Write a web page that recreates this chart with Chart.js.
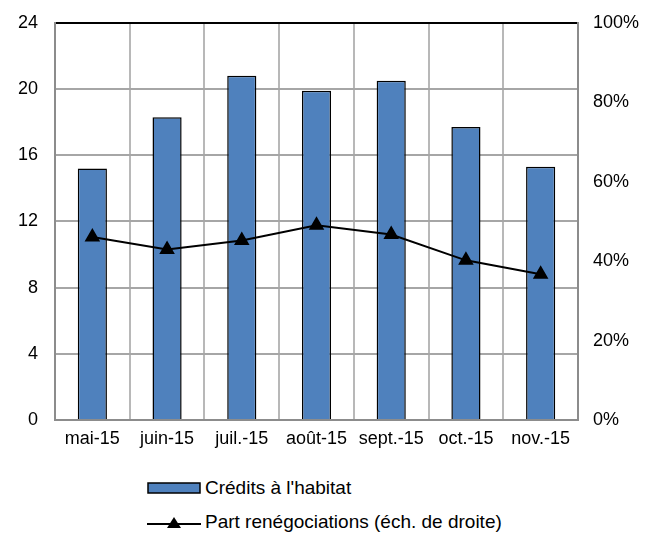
<!DOCTYPE html>
<html>
<head>
<meta charset="utf-8">
<script src="https://cdn.jsdelivr.net/npm/chart.js@4.4.1/dist/chart.umd.min.js"></script>
<style>
  body { margin: 0; background: #fff; font-family: "Liberation Sans", Arial, sans-serif; overflow: hidden; }
  #wrap { position: relative; width: 653px; height: 541px; overflow: hidden; }
  #chart { position: absolute; left: 0; top: -5px; }
  .leg { position: absolute; left: 147px; height: 22px; font-size: 19px; line-height: 22px; color: #000; display: flex; align-items: center; }
  .leg svg { margin-right: 4px; }
</style>
</head>
<body>
<div id="wrap">
  <canvas id="chart" width="653" height="465"></canvas>
  <div class="leg" style="top:477px;">
    <svg width="54" height="14"><rect x="1" y="2" width="52" height="10" fill="#4F81BD" stroke="#000" stroke-width="1.5"/></svg>
    <span>Crédits à l'habitat</span>
  </div>
  <div class="leg" style="top:511px;">
    <svg width="54" height="16"><line x1="0" y1="10" x2="54" y2="10" stroke="#000" stroke-width="2"/><polygon points="27,3 34,14 20,14" fill="#000"/></svg>
    <span>Part renégociations (éch. de droite)</span>
  </div>
</div>
<script>
// Données
const months = ["mai-15", "juin-15", "juil.-15", "août-15", "sept.-15", "oct.-15", "nov.-15"];
const credits = [15.2, 18.3, 20.8, 19.9, 20.5, 17.7, 15.3];
const partRenego = [46.1, 42.9, 45.2, 49.0, 46.7, 40.2, 36.7];

const ctx = document.getElementById("chart").getContext("2d");
const tickFont = { family: "Liberation Sans", size: 18 };

const chart = new Chart(ctx, {
  type: "bar",
  data: {
    labels: months,
    datasets: [
      {
        type: "line",
        label: "Part renégociations (éch. de droite)",
        data: partRenego,
        yAxisID: "y2",
        borderColor: "#000",
        backgroundColor: "#000",
        borderWidth: 2,
        pointStyle: "triangle",
        pointRadius: 7,
        pointHoverRadius: 7,
        tension: 0,
        order: 0
      },
      {
        label: "Crédits à l'habitat",
        data: credits,
        yAxisID: "y",
        backgroundColor: "#4F81BD",
        borderColor: "#000",
        borderWidth: 1.5,
        categoryPercentage: 1,
        barPercentage: 0.39,
        order: 1
      }
    ]
  },
  options: {
    responsive: false,
    animation: false,
    layout: { padding: { top: 7, left: 0, right: 0, bottom: 0 } },
    plugins: {
      legend: { display: false },
      tooltip: { enabled: false }
    },
    scales: {
      x: {
        offset: true,
        grid: { offset: true, color: "#B8B8B8", lineWidth: 2, drawTicks: false },
        border: { color: "#8C8C8C", width: 2 },
        ticks: { color: "#000", font: tickFont, padding: 8, maxRotation: 0, autoSkip: false },
        afterFit: (scale) => { scale.height = 40; }
      },
      y: {
        position: "left",
        min: 0,
        max: 24,
        ticks: { stepSize: 4, color: "#000", font: tickFont, padding: 17 },
        grid: {
          color: (c) => (c.tick && c.tick.value === 24 ? "#000" : "#A6A6A6"),
          lineWidth: 2,
          drawTicks: false
        },
        border: { color: "#8C8C8C", width: 2 },
        afterFit: (scale) => { scale.width = 55; }
      },
      y2: {
        position: "right",
        min: 0,
        max: 100,
        ticks: { stepSize: 20, color: "#000", font: tickFont, padding: 15, callback: (v) => v + "%" },
        grid: { drawOnChartArea: false, drawTicks: false },
        border: { color: "#8C8C8C", width: 2 },
        afterFit: (scale) => { scale.width = 75; }
      }
    }
  }
});
</script>
</body>
</html>
